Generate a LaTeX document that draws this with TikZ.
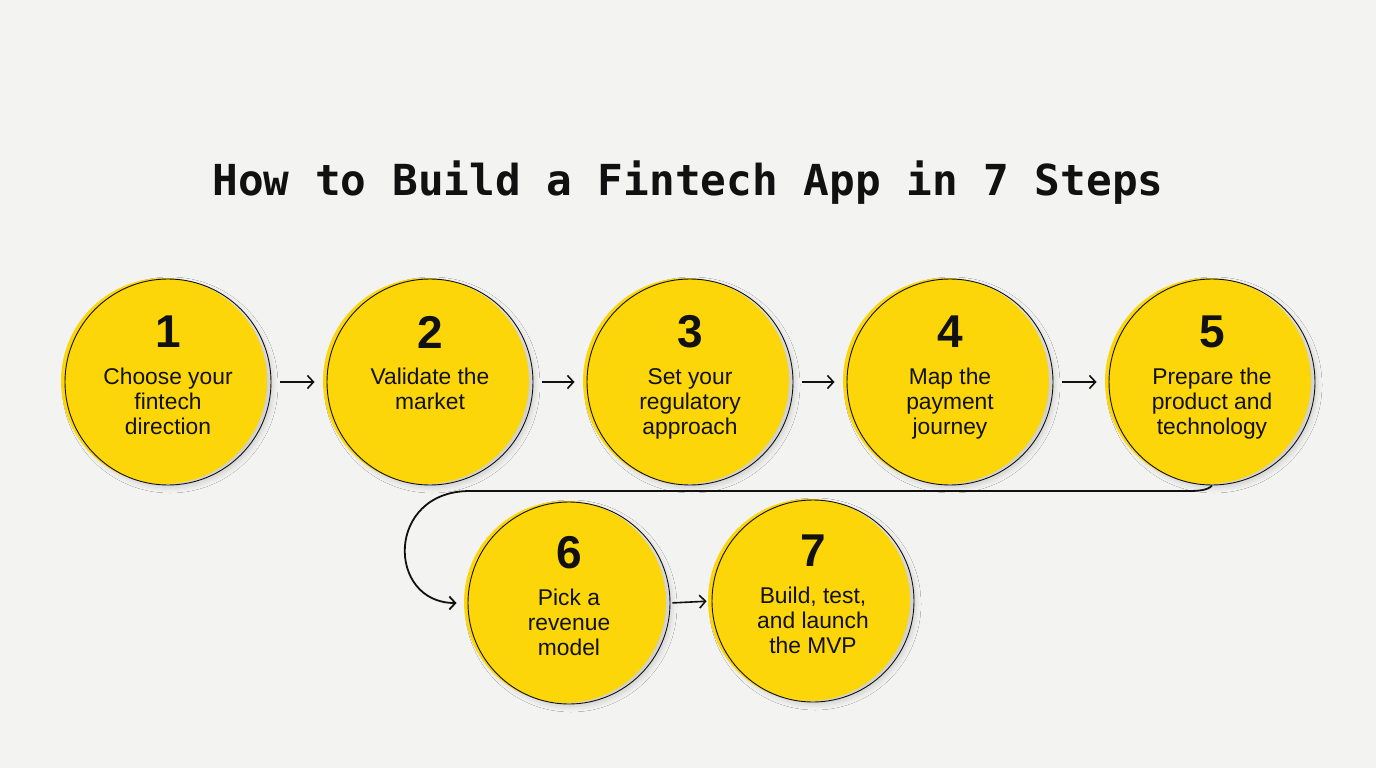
\documentclass[tikz,border=0pt]{standalone}
\usepackage{fontspec}
\setmainfont{Liberation Sans}
\newfontfamily\titlefont{DejaVu Sans Mono}
\usetikzlibrary{positioning, arrows.meta, shadows.blur}

\definecolor{stepyellow}{RGB}{252,214,8}
\definecolor{paper}{RGB}{243,243,242}
\definecolor{ink}{RGB}{17,17,17}

\begin{document}
\begin{tikzpicture}[
    % GLOBAL CFG
    x=1pt, y=-1pt,
    >={Straight Barb[length=6pt,width=13pt]},
    % Styles
    stepcircle/.style={% For the yellow step discs
        circle,
        minimum size=206pt,
        inner sep=0pt,
        draw=ink,
        line width=0.9pt,
        blur shadow={shadow xshift=2pt, shadow yshift=-3pt, shadow blur radius=5pt, shadow opacity=14},
        preaction={fill=stepyellow, transform canvas={shift={(-4pt,1pt)}}},
        },
    stepnum/.style={% Big number on top of the disc
        font=\fontsize{46}{46}\selectfont\bfseries,
        text=ink,
        inner sep=0pt,
        yshift=50pt,
        },
    steptext/.style={% Description below the number
        font=\fontsize{22.8}{25}\selectfont,
        text=ink,
        align=center,
        inner sep=0pt,
        anchor=north,
        yshift=14pt,
        },
    flow/.style={% Short arrows between the discs
        ->,
        draw=ink,
        line width=1.6pt,
        shorten <=9pt,
        shorten >=12pt,
        },
    ]

    \useasboundingbox[fill=paper] (0,0) rectangle (1376,768);

    % Title
    \node[font={\titlefont\fontsize{42.7}{44}\selectfont\bfseries}, text=ink, anchor=base] (title) at (688,195) {How to Build a Fintech App in 7 Steps};

    % Draw the discs, first row
    \node[stepcircle] (choose) at (168,382) {};
    \node[stepcircle] (validate) at (430,382) {};
    \node[stepcircle] (regulate) at (690,382) {};
    \node[stepcircle] (payment) at (950,382) {};
    \node[stepcircle] (product) at (1212,382) {};

    % second row
    \node[stepcircle, minimum size=202pt] (revenue) at (569,603) {};
    \node[stepcircle, minimum size=202pt] (launch) at (813,601) {};

    % Numbers
    \node[stepnum] (choose_num) at (choose) {1};
    \node[stepnum] (validate_num) at (validate) {2};
    \node[stepnum] (regulate_num) at (regulate) {3};
    \node[stepnum] (payment_num) at (payment) {4};
    \node[stepnum] (product_num) at (product) {5};
    \node[stepnum] (revenue_num) at (revenue) {6};
    \node[stepnum] (launch_num) at (launch) {7};

    % Texts
    \node[steptext] (choose_txt) at (choose) {Choose your\\fintech\\direction};
    \node[steptext] (validate_txt) at (validate) {Validate the\\market};
    \node[steptext] (regulate_txt) at (regulate) {Set your\\regulatory\\approach};
    \node[steptext] (payment_txt) at (payment) {Map the\\payment\\journey};
    \node[steptext] (product_txt) at (product) {Prepare the\\product and\\technology};
    \node[steptext] (revenue_txt) at (revenue) {Pick a\\revenue\\model};
    \node[steptext] (launch_txt) at (launch) {Build, test,\\and launch\\the MVP};

% Start connecting all.
    \draw [flow] (choose.east) -- (validate.west);
    \draw [flow] (validate.east) -- (regulate.west);
    \draw [flow] (regulate.east) -- (payment.west);
    \draw [flow] (payment.east) -- (product.west);

    % Return line to the second row
    \coordinate (turn_r) at (1188,491);
    \coordinate (turn_l) at (470,491);
    \draw [flow, line width=1.8pt, shorten <=0pt, shorten >=11pt] (product.south) .. controls +(-4,5) and +(10,0) .. (turn_r)
        -- (turn_l) .. controls +(-85,0) and +(-81,0) .. (revenue.west);

    \draw [flow, shorten <=2pt, shorten >=5pt] (revenue.east) -- (launch.west);

\end{tikzpicture}
\end{document}
